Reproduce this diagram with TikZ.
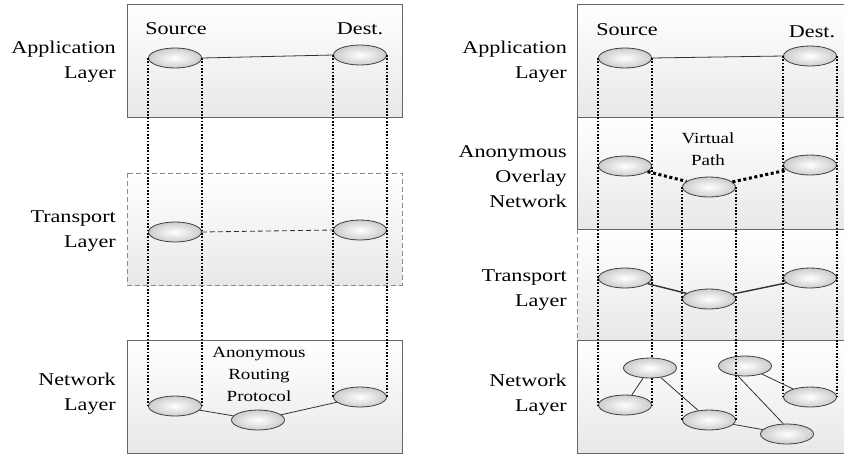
\documentclass[tikz,border=0pt]{standalone}
\usepackage{fontspec}
\setmainfont{Liberation Serif}[FakeStretch=1.23]
\usetikzlibrary{shapes.geometric}
\begin{document}
\begin{tikzpicture}[x=1pt, y=-1pt, font=\fontsize{18}{25}\selectfont,
    cell/.style = {ellipse, draw=black!75, line width=0.8pt, minimum width=53pt, minimum height=20pt, inner sep=0pt, shading=radial, inner color=white, outer color=gray!40},
    lbl/.style = {align=right, anchor=east, inner sep=0pt},
    note/.style = {align=center, inner sep=0pt, font=\fontsize{15.5}{22}\selectfont},
    frame/.style = {draw=black!60, line width=1pt},
    layer/.style = {top color=white, bottom color=gray!18},
    vline/.style = {line width=1.7pt, dash pattern=on 1.7pt off 1.6pt},
    link/.style = {draw=black!80, line width=0.8pt}]
    \useasboundingbox (0,0) rectangle (844,456);

    \path[layer] (127,4) rectangle (402,117);
    \draw[frame] (127,4) rectangle (402,117);
    \path[layer] (127,173) rectangle (402,285);
    \draw[frame, draw=black!45, dashed, dash pattern=on 5pt off 3pt] (127,173) rectangle (402,285);
    \path[layer] (127,340) rectangle (402,453);
    \draw[frame] (127,340) rectangle (402,453);

    \path[layer] (577,4) rectangle (848,117);
    \path[layer] (577,117) rectangle (848,229);
    \path[layer] (577,229) rectangle (848,340);
    \path[layer] (577,340) rectangle (848,453);
    \draw[frame] (577,229) -- (577,4) -- (848,4);
    \draw[frame] (577,340) -- (577,453) -- (848,453);
    \draw[frame] (577,117) -- (848,117) (577,229) -- (848,229) (577,340) -- (848,340);
    \draw[frame, draw=black!45, dash pattern=on 5pt off 3pt] (577,229) -- (577,340);

    \node[lbl] (l1) at (116,62)  {Application\\Layer};
    \node[lbl] (l2) at (116,231) {Transport\\Layer};
    \node[lbl] (l3) at (116,394) {Network\\Layer};
    \node[lbl] (r1l) at (567,62)  {Application\\Layer};
    \node[lbl] (r2l) at (567,177) {Anonymous\\Overlay\\Network};
    \node[lbl] (r3l) at (567,290) {Transport\\Layer};
    \node[lbl] (r4l) at (567,395) {Network\\Layer};

    \node (src1) at (176,29) {Source};
    \node (dst1) at (360,29) {Dest.};
    \node (src2) at (627,30) {Source};
    \node (dst2) at (812,32) {Dest.};
    \node[note] (arp) at (259,374) {Anonymous\\Routing\\Protocol};
    \node[note] (vp) at (708,149) {Virtual\\Path};

    \node[cell] (a1) at (175,58)  {};
    \node[cell] (a2) at (360,55)  {};
    \node[cell] (t1) at (175,232) {};
    \node[cell] (t2) at (360,230) {};
    \node[cell] (n1) at (175,406) {};
    \node[cell] (n2) at (258,420) {};
    \node[cell] (n3) at (360,397) {};

    \node[cell] (b1) at (625,58)  {};
    \node[cell] (b2) at (810,56)  {};
    \node[cell] (o1) at (625,166) {};
    \node[cell] (o2) at (709,187) {};
    \node[cell] (o3) at (810,165) {};
    \node[cell] (p1) at (625,278) {};
    \node[cell] (p2) at (709,299) {};
    \node[cell] (p3) at (810,278) {};
    \node[cell] (m1) at (625,405) {};
    \node[cell] (m3) at (709,420) {};
    \node[cell] (m4) at (745,366) {};
    \node[cell] (m5) at (787,434) {};
    \node[cell] (m6) at (810,397) {};

    \draw[vline] (a1.west) -- (n1.west);
    \draw[vline] (a1.east) -- (n1.east);
    \draw[vline] (a2.west) -- (n3.west);
    \draw[vline] (a2.east) -- (n3.east);
    \draw[vline] (b1.west) -- (m1.west);
    \draw[vline] (b1.east) -- (m1.east);
    \draw[vline] (o2.west) -- (m3.west);
    \draw[vline] (o2.east) -- (m3.east);
    \draw[vline] (b2.west) -- (m6.west);
    \draw[vline] (b2.east) -- (m6.east);

    \node[cell] (m2) at (650,368) {};

    \draw[link] (a1.east) -- (a2.west);
    \draw[link, dashed, dash pattern=on 5pt off 3pt] (t1.east) -- (t2.west);
    \draw[link] (n1) -- (n2) -- (n3);
    \draw[link] (b1.east) -- (b2.west);
    \draw[line width=3pt, dash pattern=on 3pt off 2.6pt] (o1) -- (o2) -- (o3);
    \draw[link, line width=1.4pt] (p1) -- (p2) -- (p3);
    \draw[link] (m1) -- (m2);
    \draw[link] (m2) -- (m3);
    \draw[link] (m3) -- (m5);
    \draw[link] (m4.235) -- (m5.110);
    \draw[link] (m4) -- (m6);
\end{tikzpicture}
\end{document}
